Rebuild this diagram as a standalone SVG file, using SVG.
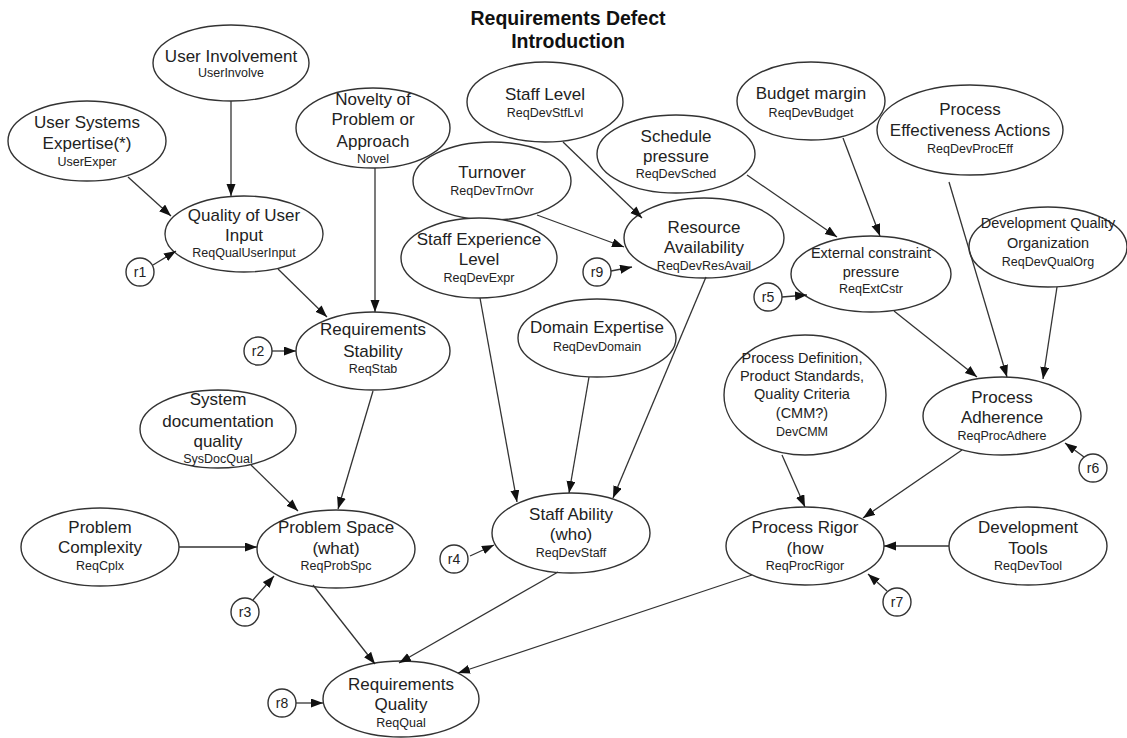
<svg xmlns="http://www.w3.org/2000/svg" width="1127" height="738" viewBox="0 0 1127 738">
<style>
  .node ellipse, .node circle { fill: #fff; stroke: #333; stroke-width: 1.4; }
  text { font-family: "Liberation Sans", Arial, sans-serif; fill: #222; text-anchor: middle; }
  .t { font-size: 17px; }
  .m { font-size: 14.5px; }
  .s { font-size: 12.5px; }
  .r { font-size: 14px; }
  .title { font-size: 19.5px; font-weight: bold; fill: #111; }
  #edges line { stroke: #333; stroke-width: 1.3; marker-end: url(#arr); }
</style>
<defs>
  <marker id="arr" markerUnits="userSpaceOnUse" markerWidth="13" markerHeight="10" refX="12" refY="4.5" orient="auto">
    <path d="M0,0 L12,4.5 L0,9 z" fill="#111"/>
  </marker>
</defs>
<rect width="1127" height="738" fill="#fff"/>

<g id="title">
  <text class="title" x="568" y="25">Requirements Defect</text>
  <text class="title" x="568" y="48">Introduction</text>
</g>

<g id="UserInvolve" class="node">
  <ellipse cx="231" cy="63" rx="78" ry="38"/>
  <text class="t" x="231" y="62">User Involvement</text>
  <text class="s" x="231" y="77">UserInvolve</text>
</g>
<g id="UserExper" class="node">
  <ellipse cx="87" cy="141" rx="79" ry="40"/>
  <text class="t" x="87" y="128">User Systems</text>
  <text class="t" x="87" y="149">Expertise(*)</text>
  <text class="s" x="87" y="166">UserExper</text>
</g>
<g id="ReqQualUserInput" class="node">
  <ellipse cx="244" cy="234" rx="79" ry="38"/>
  <text class="t" x="244" y="221">Quality of User</text>
  <text class="t" x="244" y="241">Input</text>
  <text class="s" x="244" y="257">ReqQualUserInput</text>
</g>
<g id="Novel" class="node">
  <ellipse cx="373" cy="128" rx="77" ry="40"/>
  <text class="t" x="373" y="105">Novelty of</text>
  <text class="t" x="373" y="125">Problem or</text>
  <text class="t" x="373" y="147">Approach</text>
  <text class="s" x="373" y="163">Novel</text>
</g>
<g id="ReqDevStfLvl" class="node">
  <ellipse cx="545" cy="102" rx="78" ry="40"/>
  <text class="t" x="545" y="100">Staff Level</text>
  <text class="s" x="545" y="117">ReqDevStfLvl</text>
</g>
<g id="ReqDevTrnOvr" class="node">
  <ellipse cx="492" cy="181" rx="79" ry="39"/>
  <text class="t" x="492" y="178">Turnover</text>
  <text class="s" x="492" y="195">ReqDevTrnOvr</text>
</g>
<g id="ReqDevSched" class="node">
  <ellipse cx="676" cy="154" rx="79" ry="39"/>
  <text class="t" x="676" y="142">Schedule</text>
  <text class="t" x="676" y="162">pressure</text>
  <text class="s" x="676" y="178">ReqDevSched</text>
</g>
<g id="ReqDevResAvail" class="node">
  <ellipse cx="704" cy="238" rx="80" ry="40"/>
  <text class="t" x="704" y="233">Resource</text>
  <text class="t" x="704" y="253">Availability</text>
  <text class="s" x="704" y="270">ReqDevResAvail</text>
</g>
<g id="ReqDevExpr" class="node">
  <ellipse cx="479" cy="258" rx="78" ry="40"/>
  <text class="t" x="479" y="245">Staff Experience</text>
  <text class="t" x="479" y="265">Level</text>
  <text class="s" x="479" y="282">ReqDevExpr</text>
</g>
<g id="ReqDevBudget" class="node">
  <ellipse cx="811" cy="101" rx="74" ry="39"/>
  <text class="t" x="811" y="99">Budget margin</text>
  <text class="s" x="811" y="117">ReqDevBudget</text>
</g>
<g id="ReqDevProcEff" class="node">
  <ellipse cx="970" cy="130" rx="93" ry="45"/>
  <text class="t" x="970" y="115">Process</text>
  <text class="t" x="970" y="136">Effectiveness Actions</text>
  <text class="s" x="970" y="153">ReqDevProcEff</text>
</g>
<g id="ReqExtCstr" class="node">
  <ellipse cx="871" cy="274" rx="80" ry="38"/>
  <text class="m" x="871" y="258">External constraint</text>
  <text class="m" x="871" y="277">pressure</text>
  <text class="s" x="871" y="293">ReqExtCstr</text>
</g>
<g id="ReqDevQualOrg" class="node">
  <ellipse cx="1048" cy="247" rx="79" ry="40"/>
  <text class="m" x="1048" y="228">Development Quality</text>
  <text class="m" x="1048" y="248">Organization</text>
  <text class="s" x="1048" y="266">ReqDevQualOrg</text>
</g>
<g id="ReqStab" class="node">
  <ellipse cx="373" cy="351" rx="77" ry="39"/>
  <text class="t" x="373" y="335">Requirements</text>
  <text class="t" x="373" y="357">Stability</text>
  <text class="s" x="373" y="373">ReqStab</text>
</g>
<g id="ReqDevDomain" class="node">
  <ellipse cx="597" cy="338" rx="79" ry="39"/>
  <text class="t" x="597" y="333">Domain Expertise</text>
  <text class="s" x="597" y="351">ReqDevDomain</text>
</g>
<g id="DevCMM" class="node">
  <ellipse cx="805" cy="395" rx="81" ry="60"/>
  <text class="m" x="802" y="363">Process Definition,</text>
  <text class="m" x="802" y="381">Product Standards,</text>
  <text class="m" x="802" y="399">Quality Criteria</text>
  <text class="m" x="802" y="418">(CMM?)</text>
  <text class="s" x="802" y="436">DevCMM</text>
</g>
<g id="ReqProcAdhere" class="node">
  <ellipse cx="1002" cy="416" rx="79" ry="39"/>
  <text class="t" x="1002" y="403">Process</text>
  <text class="t" x="1002" y="423">Adherence</text>
  <text class="s" x="1002" y="440">ReqProcAdhere</text>
</g>
<g id="SysDocQual" class="node">
  <ellipse cx="218" cy="429" rx="78" ry="39"/>
  <text class="t" x="218" y="405">System</text>
  <text class="t" x="218" y="427">documentation</text>
  <text class="t" x="218" y="447">quality</text>
  <text class="s" x="218" y="463">SysDocQual</text>
</g>
<g id="ReqCplx" class="node">
  <ellipse cx="100" cy="547" rx="79" ry="39"/>
  <text class="t" x="100" y="533">Problem</text>
  <text class="t" x="100" y="553">Complexity</text>
  <text class="s" x="100" y="570">ReqCplx</text>
</g>
<g id="ReqProbSpc" class="node">
  <ellipse cx="336" cy="549" rx="79" ry="39"/>
  <text class="t" x="336" y="533">Problem Space</text>
  <text class="t" x="336" y="554">(what)</text>
  <text class="s" x="336" y="570">ReqProbSpc</text>
</g>
<g id="ReqDevStaff" class="node">
  <ellipse cx="571" cy="533" rx="79" ry="40"/>
  <text class="t" x="571" y="520">Staff Ability</text>
  <text class="t" x="571" y="540">(who)</text>
  <text class="s" x="571" y="557">ReqDevStaff</text>
</g>
<g id="ReqProcRigor" class="node">
  <ellipse cx="805" cy="546" rx="79" ry="39"/>
  <text class="t" x="805" y="533">Process Rigor</text>
  <text class="t" x="805" y="554">(how</text>
  <text class="s" x="805" y="570">ReqProcRigor</text>
</g>
<g id="ReqDevTool" class="node">
  <ellipse cx="1028" cy="546" rx="79" ry="39"/>
  <text class="t" x="1028" y="533">Development</text>
  <text class="t" x="1028" y="554">Tools</text>
  <text class="s" x="1028" y="570">ReqDevTool</text>
</g>
<g id="ReqQual" class="node">
  <ellipse cx="401" cy="699" rx="78" ry="38"/>
  <text class="t" x="401" y="690">Requirements</text>
  <text class="t" x="401" y="710">Quality</text>
  <text class="s" x="401" y="727">ReqQual</text>
</g>

<g id="r1" class="node"><circle cx="140" cy="272" r="14"/><text class="r" x="140" y="277">r1</text></g>
<g id="r2" class="node"><circle cx="258" cy="351" r="14"/><text class="r" x="258" y="356">r2</text></g>
<g id="r3" class="node"><circle cx="245" cy="612" r="14"/><text class="r" x="245" y="617">r3</text></g>
<g id="r4" class="node"><circle cx="454" cy="559" r="14"/><text class="r" x="454" y="564">r4</text></g>
<g id="r5" class="node"><circle cx="768" cy="297" r="14"/><text class="r" x="768" y="302">r5</text></g>
<g id="r6" class="node"><circle cx="1093" cy="468" r="14"/><text class="r" x="1093" y="473">r6</text></g>
<g id="r7" class="node"><circle cx="897" cy="602" r="14"/><text class="r" x="897" y="607">r7</text></g>
<g id="r8" class="node"><circle cx="282" cy="703" r="14"/><text class="r" x="282" y="708">r8</text></g>
<g id="r9" class="node"><circle cx="597" cy="272" r="14"/><text class="r" x="597" y="277">r9</text></g>

<!-- connectors are drawn over the nodes so crossings stay visible -->
<g id="edges">
  <line x1="231" y1="101" x2="231" y2="196"/>
  <line x1="128" y1="177" x2="171" y2="216"/>
  <line x1="153" y1="265" x2="176" y2="251"/>
  <line x1="375" y1="168" x2="375" y2="312"/>
  <line x1="278" y1="269" x2="327" y2="317"/>
  <line x1="272" y1="351" x2="296" y2="351"/>
  <line x1="373" y1="391" x2="338" y2="509"/>
  <line x1="251" y1="465" x2="298" y2="511"/>
  <line x1="179" y1="547" x2="257" y2="547"/>
  <line x1="253" y1="600" x2="274" y2="576"/>
  <line x1="313" y1="585" x2="375" y2="664"/>
  <line x1="558" y1="572" x2="399" y2="663"/>
  <line x1="752" y1="575" x2="458" y2="673"/>
  <line x1="296" y1="703" x2="323" y2="703"/>
  <line x1="563" y1="142" x2="642" y2="218"/>
  <line x1="537" y1="215" x2="624" y2="247"/>
  <line x1="611" y1="271" x2="632" y2="267"/>
  <line x1="747" y1="175" x2="837" y2="237"/>
  <line x1="843" y1="138" x2="880" y2="236"/>
  <line x1="782" y1="297" x2="807" y2="295"/>
  <line x1="894" y1="311" x2="977" y2="377"/>
  <line x1="949" y1="182" x2="1007" y2="377"/>
  <line x1="1057" y1="287" x2="1043" y2="379"/>
  <line x1="1084" y1="457" x2="1065" y2="443"/>
  <line x1="706" y1="277" x2="613" y2="498"/>
  <line x1="480" y1="298" x2="517" y2="502"/>
  <line x1="589" y1="377" x2="569" y2="493"/>
  <line x1="470" y1="556" x2="494" y2="545"/>
  <line x1="782" y1="455" x2="805" y2="507"/>
  <line x1="962" y1="450" x2="863" y2="518"/>
  <line x1="949" y1="546" x2="884" y2="546"/>
  <line x1="887" y1="591" x2="868" y2="574"/>
</g>
</svg>
